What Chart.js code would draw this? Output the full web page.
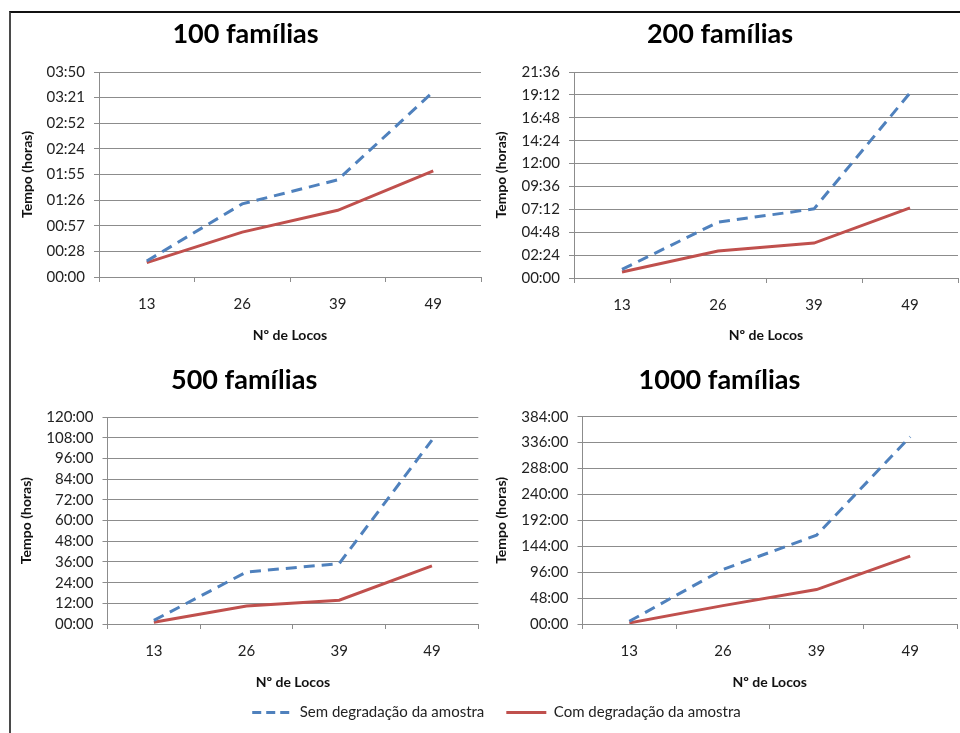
<!DOCTYPE html>
<html>
<head>
<meta charset="utf-8">
<script src="https://cdn.jsdelivr.net/npm/chart.js@4/dist/chart.umd.min.js"></script>
<style>
html,body{margin:0;padding:0;background:#fff;}
body{width:960px;height:733px;position:relative;overflow:hidden;}
.frame{position:absolute;left:9px;top:11px;width:960px;height:740px;border-top:2px solid #111;border-left:2px solid #4a4a4a;}
.box{position:absolute;}
canvas{display:block;}
</style>
</head>
<body>
<div class="frame"></div>
<div class="box" style="left:10px;top:12px;"><canvas id="c100" width="472" height="340"></canvas></div>
<div class="box" style="left:482px;top:12px;"><canvas id="c200" width="478" height="340"></canvas></div>
<div class="box" style="left:10px;top:352px;"><canvas id="c500" width="472" height="347"></canvas></div>
<div class="box" style="left:482px;top:352px;"><canvas id="c1000" width="478" height="347"></canvas></div>
<div class="box" style="left:0px;top:660px;"><canvas id="cleg" width="960" height="73"></canvas></div>
<script>
// ---- data (time in hours) ----
const categories = ['13', '26', '39', '49'];
const seriesNames = ['Sem degradação da amostra', 'Com degradação da amostra'];
const panelTitles = ['100 famílias', '200 famílias', '500 famílias', '1000 famílias'];
const xTitle = 'Nº de Locos';
const yTitle = 'Tempo (horas)';

const sem100 = [0.30, 1.37, 1.82, 3.47];
const com100 = [0.27, 0.84, 1.25, 1.99];
const sem200 = [0.90, 5.85, 7.25, 19.4];
const com200 = [0.63, 2.82, 3.66, 7.35];
const sem500 = [2.1, 30.2, 35.1, 106.8];
const com500 = [1.0, 10.5, 13.8, 33.7];
const sem1000 = [5, 101, 164.5, 347];
const com1000 = [2, 34, 63.8, 125.6];

// y tick values (hours), shown as [h]:mm
const ticks100 = [0, 0.48, 0.96, 1.44, 1.92, 2.4, 2.88, 3.36, 3.84];
const ticks200 = [0, 2.4, 4.8, 7.2, 9.6, 12, 14.4, 16.8, 19.2, 21.6];
const ticks500 = [0, 12, 24, 36, 48, 60, 72, 84, 96, 108, 120];
const ticks1000 = [0, 48, 96, 144, 192, 240, 288, 336, 384];

// ---- styling ----
const FONT = 'Lato, "Open Sans", sans-serif';
const GRID = '#8c8c8c';
const TXT = '#222';
const BLUE = '#4f81bd';
const RED = '#c0504d';

function fmt(v) {
  const total = Math.floor(v * 60 + 1e-6);
  const h = Math.floor(total / 60);
  const m = total % 60;
  return String(h).padStart(2, '0') + ':' + String(m).padStart(2, '0');
}

function makePanel(id, title, sem, com, ticks, geo) {
  return new Chart(document.getElementById(id), {
    type: 'line',
    data: {
      labels: categories,
      datasets: [
        {label: seriesNames[0], data: sem, borderColor: BLUE, backgroundColor: BLUE, borderWidth: 3,
         borderDash: [11, 7], pointRadius: 0, tension: 0, fill: false},
        {label: seriesNames[1], data: com, borderColor: RED, backgroundColor: RED, borderWidth: 3,
         pointRadius: 0, tension: 0, fill: false}
      ]
    },
    options: {
      responsive: false, animation: false, devicePixelRatio: 1,
      events: [],
      layout: {padding: {left: 0, right: geo.padR, top: 0, bottom: 0}},
      plugins: {
        legend: {display: false},
        tooltip: {enabled: false},
        title: {display: true, text: title, color: '#000',
          font: {family: FONT, size: 27, weight: 'bold', lineHeight: 1.2},
          padding: {top: geo.tTop, bottom: geo.tBot}}
      },
      scales: {
        x: {
          type: 'category', offset: true,
          grid: {display: true, drawOnChartArea: false, drawTicks: true, tickLength: 5, offset: true, color: GRID},
          border: {display: true, color: GRID, width: 1},
          ticks: {color: TXT, font: {family: FONT, size: 15}, padding: 13, maxRotation: 0, autoSkip: false},
          title: {display: true, text: xTitle, color: '#111',
            font: {family: FONT, size: 14, weight: 'bold', lineHeight: 1.2}, padding: {top: 0, bottom: 8}},
          afterFit: (s) => { s.height = geo.xH; }
        },
        y: {
          type: 'linear', min: 0, max: ticks[ticks.length - 1],
          afterBuildTicks: (s) => { s.ticks = ticks.map(v => ({value: v})); },
          grid: {color: GRID, drawTicks: true, tickLength: 5},
          border: {display: true, color: GRID, width: 1},
          ticks: {color: TXT, font: {family: FONT, size: 15}, padding: 9, autoSkip: false, callback: (v) => fmt(v)},
          title: {display: true, text: yTitle, color: '#111',
            font: {family: FONT, size: 14, weight: 'bold', lineHeight: 1.2}, padding: {top: geo.yTP, bottom: 0}},
          afterFit: (s) => { s.width = geo.yW; }
        }
      }
    }
  });
}

makePanel('c100', panelTitles[0], sem100, com100, ticks100,
  {yW: 89, padR: 1, tTop: 5.8, tBot: 21.8, xH: 75, yTP: 8.6});
makePanel('c200', panelTitles[1], sem200, com200, ticks200,
  {yW: 92, padR: 2, tTop: 5.8, tBot: 21.8, xH: 74, yTP: 11.3});
makePanel('c500', panelTitles[2], sem500, com500, ticks500,
  {yW: 97.5, padR: 3.7, tTop: 11.8, tBot: 21.1, xH: 75, yTP: 8.3});
makePanel('c1000', panelTitles[3], sem1000, com1000, ticks1000,
  {yW: 100.5, padR: 3, tTop: 11.8, tBot: 20.5, xH: 75, yTP: 11.3});

// shared legend
new Chart(document.getElementById('cleg'), {
  type: 'line',
  data: {
    labels: [],
    datasets: [
      {label: seriesNames[0], data: [], borderColor: BLUE, backgroundColor: BLUE, borderWidth: 3, borderDash: [9, 5]},
      {label: seriesNames[1], data: [], borderColor: RED, backgroundColor: RED, borderWidth: 3}
    ]
  },
  options: {
    responsive: false, animation: false, devicePixelRatio: 1, events: [],
    layout: {padding: {left: 33, right: 0, top: 23, bottom: 0}},
    scales: {x: {display: false}, y: {display: false}},
    plugins: {
      tooltip: {enabled: false},
      legend: {display: true, position: 'top', align: 'center', maxHeight: 200,
        labels: {usePointStyle: true, pointStyle: 'line', pointStyleWidth: 40, padding: 22,
          color: '#222', font: {family: FONT, size: 15},
          generateLabels: (chart) => {
            const items = Chart.defaults.plugins.legend.labels.generateLabels(chart);
            items.forEach((it, i) => {
              const ds = chart.data.datasets[i];
              it.lineDash = ds.borderDash || [];
              it.lineWidth = ds.borderWidth;
              it.strokeStyle = ds.borderColor;
              it.pointStyle = 'line';
            });
            return items;
          }}}
    }
  }
});
</script>
</body>
</html>
